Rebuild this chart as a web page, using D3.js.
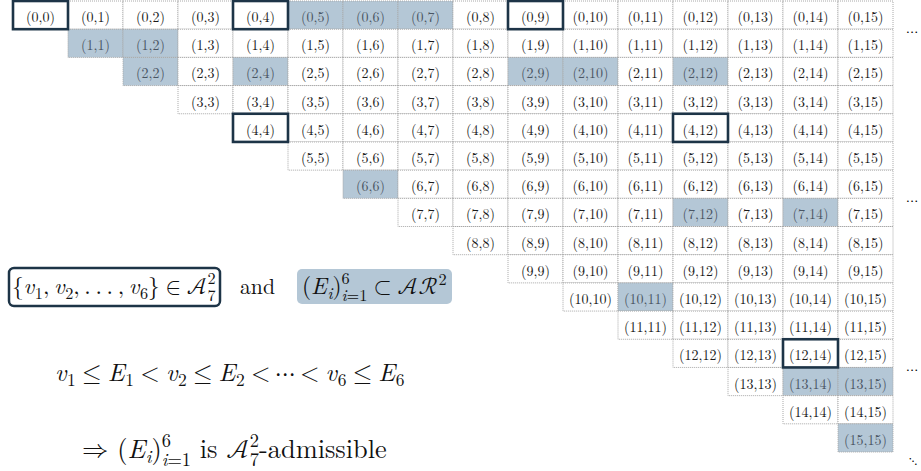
<!DOCTYPE html>
<html lang="en">
  <head>
    <meta charset="UTF-8" />
    <title>Admissible sequence grid</title>
    <script src="https://d3js.org/d3.v7.min.js"></script>
    <style>
      body {
        margin: 0;
        background: #fff;
      }
      svg {
        display: block;
      }
      text {
        white-space: pre;
      }
    </style>
  </head>
  <body>
    <script>
      // grid size: cells (i,j) with 0 <= i <= j < N
      const N = 16;
      const indices = d3.range(N);

      // shaded cells (the E_i)
      const shadedCells = [
        [0, 5], [0, 6], [0, 7],
        [1, 1], [1, 2],
        [2, 2], [2, 4], [2, 9], [2, 10], [2, 12],
        [6, 6],
        [7, 12], [7, 14],
        [10, 11],
        [13, 14], [13, 15],
        [15, 15],
      ];

      // framed cells (the v_i)
      const framedCells = [[0, 0], [0, 4], [0, 9], [4, 4], [4, 12], [12, 14]];

      // rows after which a "⋯" is drawn on the right
      const dotRows = [0, 6, 12];

      const width = 921;
      const height = 471;
      const shade = "#b4c7d6";
      const navy = "#1d3447";
      const serif = "'Latin Modern Roman', 'Latin Modern Math', 'Liberation Serif', serif";
      const script = "'Latin Modern Math', 'Latin Modern Roman', serif";

      const svg = d3.select("body").append("svg").attr("width", width).attr("height", height);

      const x = d3.scaleBand().domain(indices).range([13, 893]);
      const y = d3.scaleBand().domain(indices).range([1, 452]);

      const isShaded = (i, j) => shadedCells.some((c) => c[0] === i && c[1] === j);

      const cells = [];
      indices.forEach((i) => {
        indices.forEach((j) => {
          if (j >= i) cells.push({ i, j, shaded: isShaded(i, j) });
        });
      });

      // cells with dotted borders
      const cell = svg
        .append("g")
        .selectAll("g")
        .data(cells)
        .enter()
        .append("g")
        .attr("transform", (d) => `translate(${x(d.j)},${y(d.i)})`);

      cell
        .append("rect")
        .attr("width", x.bandwidth())
        .attr("height", y.bandwidth())
        .attr("fill", (d) => (d.shaded ? shade : "#fff"))
        .attr("stroke", "#a8a8a8")
        .attr("stroke-width", 1)
        .attr("stroke-dasharray", "1,1");

      cell
        .append("text")
        .attr("x", x.bandwidth() / 2)
        .attr("y", y.bandwidth() / 2 + 1)
        .attr("text-anchor", "middle")
        .attr("dominant-baseline", "central")
        .attr("font-family", serif)
        .attr("font-size", 14)
        .attr("fill", (d) => (d.shaded ? "#4a5563" : "#1a1a1a"))
        .text((d) => `(${d.i},${d.j})`);

      // thick frames
      svg
        .append("g")
        .selectAll("rect")
        .data(framedCells)
        .enter()
        .append("rect")
        .attr("x", (d) => x(d[1]))
        .attr("y", (d) => y(d[0]))
        .attr("width", x.bandwidth())
        .attr("height", y.bandwidth())
        .attr("fill", "none")
        .attr("stroke", navy)
        .attr("stroke-width", 2.6);

      // ellipses on the right
      svg
        .append("g")
        .selectAll("text")
        .data(dotRows)
        .enter()
        .append("text")
        .attr("x", 912)
        .attr("y", (r) => y(r) + y.bandwidth())
        .attr("text-anchor", "middle")
        .attr("dominant-baseline", "central")
        .attr("font-family", serif)
        .attr("font-size", 15)
        .text("⋯");

      svg
        .append("text")
        .attr("x", 913)
        .attr("y", 459)
        .attr("text-anchor", "middle")
        .attr("dominant-baseline", "central")
        .attr("font-family", serif)
        .attr("font-size", 14)
        .text("⋱");

      // simple math typesetting: pieces placed one after another
      // kinds: r roman, i italic, c script letter, _ subscript, ^ superscript, ^_ stacked sup/sub
      // a sub/sup text written "i=1" gets an italic i
      function render(g, x0, yb, parts, size) {
        let cx = x0;
        const put = (t, px, py, fs, italic, fam) => {
          const el = g
            .append("text")
            .attr("x", px)
            .attr("y", py)
            .attr("font-family", fam || serif)
            .attr("font-size", fs)
            .attr("font-style", italic ? "italic" : "normal")
            .attr("fill", "#111")
            .text(t);
          return el.node().getComputedTextLength();
        };
        const small = (t, px, py) => {
          const fs = size * 0.7;
          if (t.startsWith("i")) {
            const w = put("i", px, py, fs, true);
            return w + (t.length > 1 ? put(t.slice(1), px + w, py, fs, false) : 0);
          }
          return put(t, px, py, fs, false);
        };
        parts.forEach((p) => {
          const k = p[0];
          if (k === "r") cx += put(p[1], cx, yb, size, false);
          else if (k === "i") cx += put(p[1], cx, yb, size, true) + 0.5;
          else if (k === "c") cx += put(p[1], cx, yb, size, false, script) + 1;
          else if (k === "_") cx += small(p[1], cx, yb + size * 0.2);
          else if (k === "^") cx += small(p[1], cx, yb - size * 0.4);
          else if (k === "^_") {
            const w1 = small(p[1], cx, yb - size * 0.43);
            const w2 = small(p[2], cx, yb + size * 0.29);
            cx += Math.max(w1, w2);
          }
        });
        return cx - x0;
      }

      // draw a formula so that it spans the given width, as in the picture
      function mathLine(x0, yb, parts, size, span) {
        let g = svg.append("g");
        const w = render(g, x0, yb, parts, size);
        g.remove();
        g = svg.append("g");
        render(g, x0, yb, parts, Math.max(18, Math.min(28, (size * span) / w)));
      }

      const th = "\u2009"; // thin space
      const rs = "\u2005"; // space around relations

      // box 1: the v_i
      svg
        .append("rect")
        .attr("x", 9)
        .attr("y", 268)
        .attr("width", 211)
        .attr("height", 38)
        .attr("rx", 5)
        .attr("fill", "none")
        .attr("stroke", navy)
        .attr("stroke-width", 2.5);

      mathLine(12, 294, [
        ["r", "{"], ["i", "v"], ["_", "1"], ["r", "," + th], ["i", "v"], ["_", "2"],
        ["r", "," + th + "." + th + "." + th + "." + th + "," + th], ["i", "v"], ["_", "6"],
        ["r", "}" + rs + "∈" + rs], ["c", "𝒜"], ["^_", "2", "7"],
      ], 22, 204);

      mathLine(240, 294, [["r", "and"]], 22, 35);

      // box 2: the E_i
      svg
        .append("rect")
        .attr("x", 297)
        .attr("y", 269)
        .attr("width", 155)
        .attr("height", 35)
        .attr("rx", 5)
        .attr("fill", shade);

      mathLine(302, 294, [
        ["r", "("], ["i", "E"], ["_", "i"], ["r", ")"], ["^_", "6", "i=1"],
        ["r", rs + "⊂" + rs], ["c", "𝒜"], ["c", "ℛ"], ["^", "2"],
      ], 22, 145);

      // chain of inequalities
      mathLine(55, 381, [
        ["i", "v"], ["_", "1"], ["r", rs + "≤" + rs], ["i", "E"], ["_", "1"], ["r", rs + "<" + rs],
        ["i", "v"], ["_", "2"], ["r", rs + "≤" + rs], ["i", "E"], ["_", "2"],
        ["r", rs + "<" + th + "⋯" + th + "<" + rs],
        ["i", "v"], ["_", "6"], ["r", rs + "≤" + rs], ["i", "E"], ["_", "6"],
      ], 22, 350);

      // conclusion
      mathLine(82, 458, [
        ["r", "⇒ ("], ["i", "E"], ["_", "i"], ["r", ")"], ["^_", "6", "i=1"],
        ["r", " is "], ["c", "𝒜"], ["^_", "2", "7"], ["r", "-admissible"],
      ], 24, 305);
    </script>
  </body>
</html>
